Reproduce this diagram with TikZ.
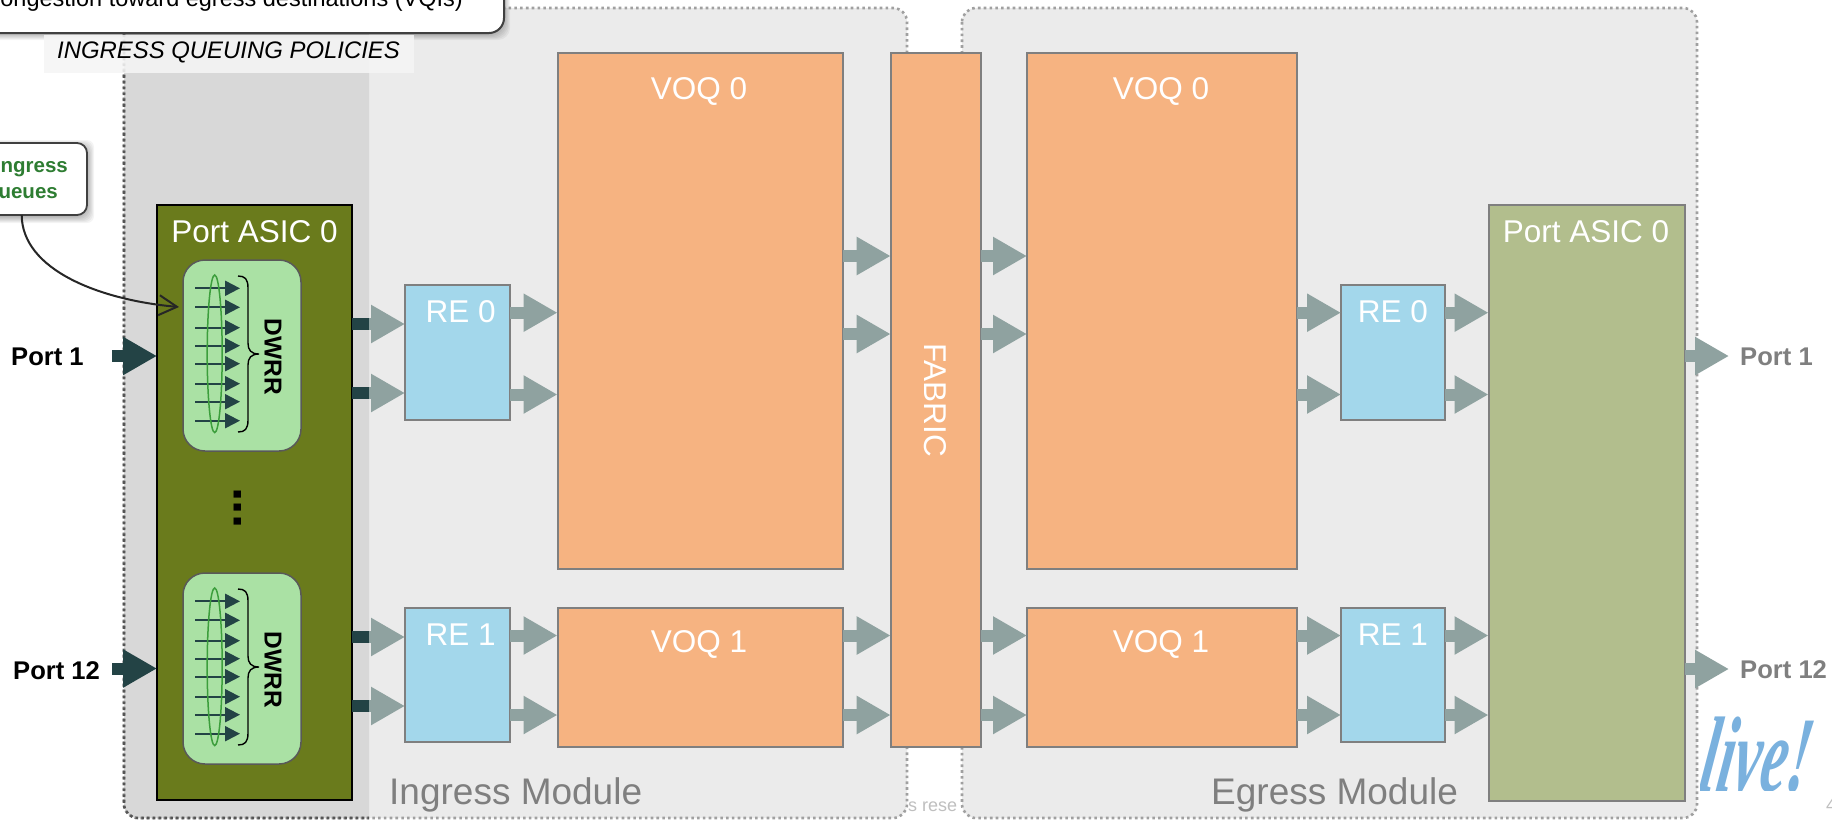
\documentclass[tikz,border=0pt]{standalone}
\usepackage{fontspec}
\setmainfont{Liberation Sans}
\newfontfamily\livefont{Liberation Serif}
\usetikzlibrary{arrows.meta,calc}
\definecolor{modbg}{HTML}{EBEBEB}
\definecolor{overlaybg}{HTML}{D8D8D8}
\definecolor{dotgray}{HTML}{A0A0A0}
\definecolor{dotdark}{HTML}{555555}
\definecolor{boxline}{HTML}{7F7F7F}
\definecolor{voqfill}{HTML}{F6B381}
\definecolor{refill}{HTML}{A3D7EB}
\definecolor{asicdark}{HTML}{6A7B1C}
\definecolor{asiclight}{HTML}{B2BE8D}
\definecolor{qfill}{HTML}{AAE1A4}
\definecolor{flowgray}{HTML}{8FA2A0}
\definecolor{flowdark}{HTML}{234345}
\definecolor{ringgreen}{HTML}{3C9E3C}
\definecolor{calloutgreen}{HTML}{2E7D32}
\definecolor{liveblue}{HTML}{7AB1DE}
\definecolor{footergray}{HTML}{BFBFBF}
\newcommand{\fs}[1]{\fontsize{#1}{#1}\selectfont}
\tikzset{
  block/.style={draw=boxline,line width=2pt,inner sep=0pt,outer sep=0pt,anchor=north west},
  voq/.style={block,fill=voqfill},
  rebox/.style={block,fill=refill,minimum width=105pt,minimum height=134.5pt},
  boxtext/.style={text=white,inner sep=0pt,font=\fs{31.5}},
  grayflow/.style={draw=flowgray,line width=12pt,-{Triangle[length=34pt,width=36pt,color=flowgray]}},
  darkflow/.style={draw=flowdark,line width=12pt,-{Triangle[length=34pt,width=36pt,color=flowdark]}},
  darkbar/.style={draw=flowdark,line width=12pt},
  portlabel/.style={inner sep=0pt,font=\bfseries\fs{25.6}},
  modname/.style={text=boxline,inner sep=0pt,font=\fs{37}},
  queuearrow/.style={draw=flowdark,line width=2pt,-{Triangle[length=15pt,width=15pt,color=flowdark]}},
  modborder/.style={line width=2.6pt,dash pattern=on 2.6pt off 3.2pt,rounded corners=14pt},
}
\newcommand{\softshadow}[5]{% x1 y1 x2 y2 radius
  \foreach \g in {0,...,7}{
    \fill[black,opacity=.045,rounded corners=#5+\g*1pt-3pt]
      ({#1-4+\g},{#2-3+\g}) rectangle ({#3+7-\g},{#4+8-\g});
  }}
\begin{document}
\begin{tikzpicture}[x=1pt,y=-1pt]
\clip (0,0) rectangle (1832,823);
\fill[white] (0,0) rectangle (1832,823);

% footer remnants
\node[anchor=west,inner sep=0pt,text=footergray,font=\fs{18}] (footer) at (908,807) {s rese};
\node[anchor=west,inner sep=0pt,text=footergray,font=\fs{18}] (pagenum) at (1826,805) {4};

% logo
\begin{scope}
  \clip (1700,700) rectangle (1832,790);
  \node[anchor=south west,inner sep=0pt,text=liveblue,xslant=.16] (logo) at (1697,793)
    {\scalebox{.93}[1.68]{\livefont\bfseries\itshape\fs{64}live!}};
\end{scope}

% modules
\fill[modbg,rounded corners=14pt] (124,8) rectangle (907,818);
\fill[modbg,rounded corners=14pt] (962,8) rectangle (1697,818);
\begin{scope}
  \clip (0,0) rectangle (369,823);
  \fill[overlaybg,rounded corners=14pt] (124,-20) rectangle (907,818);
\end{scope}
\draw[modborder,dotgray] (124,8) rectangle (907,818);
\draw[modborder,dotgray] (962,8) rectangle (1697,818);
\begin{scope}
  \clip (0,0) rectangle (369,823);
  \draw[modborder,dotdark] (124,-20) rectangle (907,818);
\end{scope}

% top callout
\softshadow{-40}{-40}{503}{32}{15pt}
\node[anchor=north west,draw=black!75,fill=white,line width=2pt,rounded corners=15pt,
      minimum width=543pt,minimum height=72pt,inner sep=0pt] (topcall) at (-40,-40) {};
\node[anchor=base east,inner sep=0pt,font=\fs{23.5}] (toptext) at (463,6)
  {congestion toward egress destinations (VQIs)};

% band
\fill[fill=white!96!black,opacity=.88] (44,35) rectangle (414,73);
\node[inner sep=0pt,font=\itshape\fs{23.9}] (policies) at (228.5,52) {INGRESS QUEUING POLICIES};

% module names
\node[modname,anchor=west] (ingname) at (389,795) {Ingress Module};
\node[modname,anchor=west] (egrname) at (1211,795) {Egress Module};

% ingress ASIC
\node[block,draw=black,fill=asicdark,minimum width=195pt,minimum height=595pt] (asicA) at (157,205) {};
\node[boxtext] (asicAt) at (254.5,232) {Port ASIC 0};

% queue groups
\foreach \o/\n in {0/qa,313/qb}{
\begin{scope}[shift={(0,\o)}]
  \node[anchor=north west,draw=black!65,fill=qfill,line width=1.5pt,rounded corners=22pt,
        minimum width=118pt,minimum height=191pt,inner sep=0pt,outer sep=0pt] (\n) at (183,260) {};
  \foreach \y in {288.3,307.3,327.7,345.7,363.7,383.7,401.7,420.7}{
    \draw[queuearrow] (195,\y) -- (240,\y);
  }
  \draw[ringgreen,line width=1.5pt] (214.7,353.8) ellipse [x radius=7.5,y radius=78.8];
  \draw[black,line width=1.4pt] (238,276) .. controls (245,276) and (248,279) .. (248,288)
    -- (248,343) .. controls (248,350) and (251,354) .. (259,354)
    .. controls (251,354) and (248,358) .. (248,365) -- (248,420)
    .. controls (248,429) and (245,432) .. (238,432);
  \node[rotate=-90,inner sep=0pt,font=\bfseries\fs{24.5}] (\n t) at (273,357) {DWRR};
\end{scope}
}
\node[rotate=90,anchor=base,inner sep=0pt,font=\bfseries\fs{50}] (dots) at (241.5,508) {...};

% RE boxes, VOQs, fabric
\node[rebox] (re0i) at (405,285) {};
\node[rebox] (re1i) at (405,607.5) {};
\node[boxtext] (re0it) at (460.7,312) {RE 0};
\node[boxtext] (re1it) at (460.7,635) {RE 1};
\node[voq,minimum width=285.5pt,minimum height=515.5pt] (voq0i) at (557.5,53) {};
\node[voq,minimum width=285.5pt,minimum height=139.5pt] (voq1i) at (557.5,607.7) {};
\node[boxtext] (voq0it) at (699,91) {VOQ 0};
\node[boxtext] (voq1it) at (699,644) {VOQ 1};
\node[voq,minimum width=90pt,minimum height=694pt] (fabric) at (890.7,53) {};
\node[boxtext,rotate=-90] (fabrict) at (935,400) {FABRIC};
\node[voq,minimum width=270pt,minimum height=515.5pt] (voq0e) at (1027,53) {};
\node[voq,minimum width=270pt,minimum height=139.5pt] (voq1e) at (1027,607.7) {};
\node[boxtext] (voq0et) at (1161,91) {VOQ 0};
\node[boxtext] (voq1et) at (1161,644) {VOQ 1};
\node[rebox,minimum width=104pt] (re0e) at (1341,285) {};
\node[rebox,minimum width=104pt] (re1e) at (1341,607.5) {};
\node[boxtext] (re0et) at (1393,312) {RE 0};
\node[boxtext] (re1et) at (1393,635) {RE 1};
\node[block,fill=asiclight,minimum width=196pt,minimum height=596pt] (asicE) at (1488.5,205) {};
\node[boxtext] (asicEt) at (1586,231.7) {Port ASIC 0};

% row coordinates
\coordinate (ya) at (0,324);
\coordinate (yb) at (0,393);
\coordinate (yc) at (0,637);
\coordinate (yd) at (0,706);
\coordinate (ye) at (0,312.7);
\coordinate (yf) at (0,394.5);
\coordinate (yg) at (0,635.5);
\coordinate (yh) at (0,715);
\coordinate (yi) at (0,256);
\coordinate (yj) at (0,334);
\coordinate (seam) at (369,0);

% ASIC to RE: dark stub under a gray head
\foreach \r/\b in {ya/re0i,yb/re0i,yc/re1i,yd/re1i}{
  \draw[grayflow] (asicA.east |- \r) -- (\b.west |- \r);
  \draw[darkbar] (asicA.east |- \r) -- (seam |- \r);
}
% ingress RE to VOQ
\draw[grayflow] (re0i.east |- ye) -- (voq0i.west |- ye);
\draw[grayflow] (re0i.east |- yf) -- (voq0i.west |- yf);
\draw[grayflow] (re1i.east |- yg) -- (voq1i.west |- yg);
\draw[grayflow] (re1i.east |- yh) -- (voq1i.west |- yh);
% VOQ to fabric, fabric to VOQ
\draw[grayflow] (voq0i.east |- yi) -- (fabric.west |- yi);
\draw[grayflow] (voq0i.east |- yj) -- (fabric.west |- yj);
\draw[grayflow] (voq1i.east |- yg) -- (fabric.west |- yg);
\draw[grayflow] (voq1i.east |- yh) -- (fabric.west |- yh);
\draw[grayflow] (fabric.east |- yi) -- (voq0e.west |- yi);
\draw[grayflow] (fabric.east |- yj) -- (voq0e.west |- yj);
\draw[grayflow] (fabric.east |- yg) -- (voq1e.west |- yg);
\draw[grayflow] (fabric.east |- yh) -- (voq1e.west |- yh);
% egress VOQ to RE, RE to ASIC
\draw[grayflow] (voq0e.east |- ye) -- (re0e.west |- ye);
\draw[grayflow] (voq0e.east |- yf) -- (re0e.west |- yf);
\draw[grayflow] (voq1e.east |- yg) -- (re1e.west |- yg);
\draw[grayflow] (voq1e.east |- yh) -- (re1e.west |- yh);
\draw[grayflow] (re0e.east |- ye) -- (asicE.west |- ye);
\draw[grayflow] (re0e.east |- yf) -- (asicE.west |- yf);
\draw[grayflow] (re1e.east |- yg) -- (asicE.west |- yg);
\draw[grayflow] (re1e.east |- yh) -- (asicE.west |- yh);

% ports
\node[portlabel,anchor=west] (pin1) at (11,357) {Port 1};
\node[portlabel,anchor=west] (pin12) at (13,671) {Port 12};
\coordinate (pin1s) at (112,356);
\coordinate (pin12s) at (112,668.5);
\draw[darkflow] (pin1s) -- (asicA.west |- pin1s);
\draw[darkflow] (pin12s) -- (asicA.west |- pin12s);
\node[portlabel,anchor=west,text=boxline] (pout1) at (1740,357) {Port 1};
\node[portlabel,anchor=west,text=boxline] (pout12) at (1740,670) {Port 12};
\coordinate (pout1e) at (1729,356);
\coordinate (pout12e) at (1729,669);
\draw[grayflow] (asicE.east |- pout1e) -- (pout1e);
\draw[grayflow] (asicE.east |- pout12e) -- (pout12e);

% ingress queues callout
\softshadow{-40}{143}{87}{215}{10pt}
\node[anchor=north west,draw=black!75,fill=white,line width=1.8pt,rounded corners=10pt,
      minimum width=127pt,minimum height=72pt,inner sep=0pt,outer sep=0pt] (qcall) at (-40,143) {};
\node[anchor=east,inner sep=0pt,align=right,text=calloutgreen,font=\bfseries\fontsize{20.5}{26}\selectfont] (qcallt) at (68,180)
  {Ingress\\Queues\rule{10pt}{0pt}};
\coordinate (qcalls) at (21.7,215);
\coordinate (qcalle) at (179,307);
\draw[black!85,line width=2pt,-{Straight Barb[length=18pt,width=20pt,line width=2pt]}]
  (qcalls) .. controls (22,270) and (100,300) .. (qcalle);
\end{tikzpicture}
\end{document}
